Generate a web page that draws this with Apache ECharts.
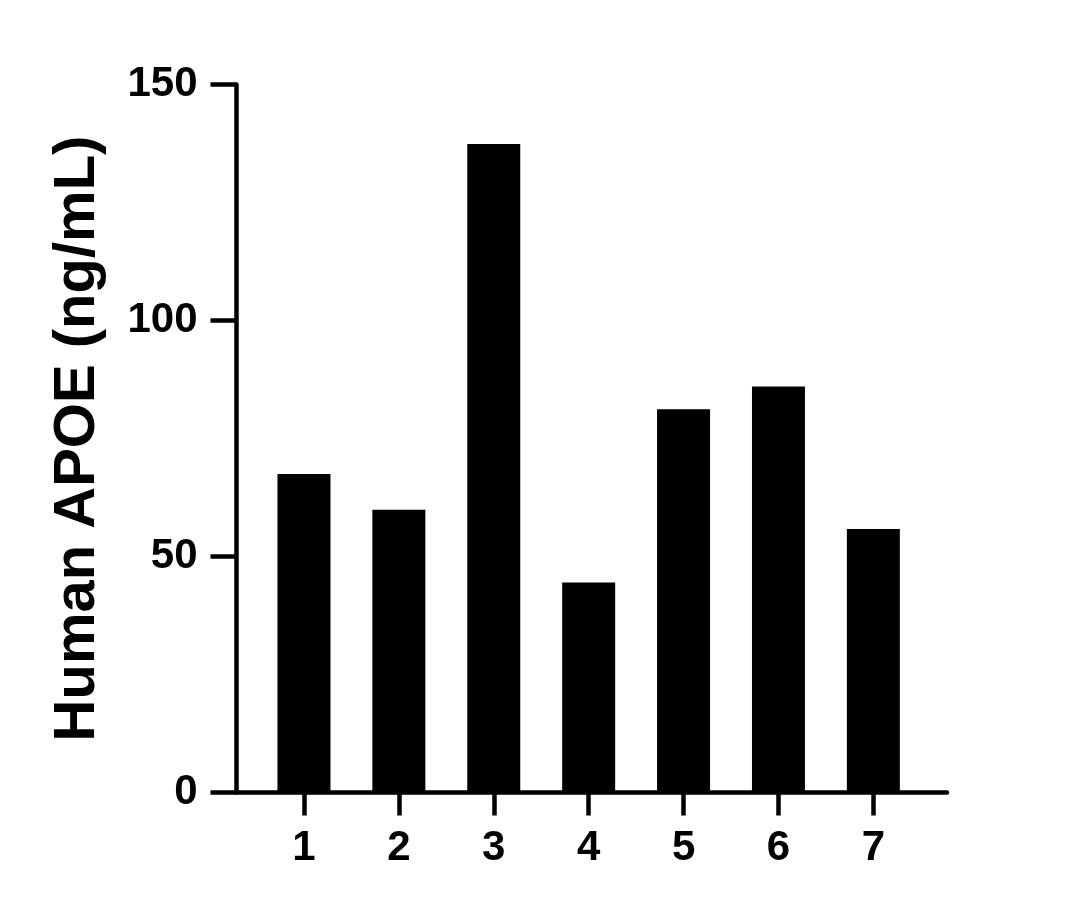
<!DOCTYPE html>
<html>
<head>
<meta charset="utf-8">
<script src="https://cdn.jsdelivr.net/npm/echarts@6/dist/echarts.min.js"></script>
<style>
html,body{margin:0;padding:0;background:#fff;}
#chart{width:1078px;height:910px;}
</style>
</head>
<body>
<div id="chart"></div>
<script>
const categories = [1, 2, 3, 4, 5, 6, 7];
const values = [67.5, 59.9, 137.4, 44.5, 81.2, 86.0, 55.8];
const yTicks = [0, 50, 100, 150];
const yName = 'Human APOE (ng/mL)';

const font = 'Liberation Sans, Arial, Helvetica, sans-serif';
const chart = echarts.init(document.getElementById('chart'), null, {renderer: 'canvas'});
chart.setOption({
  animation: false,
  backgroundColor: '#ffffff',
  grid: {left: 236.5, top: 84.5, width: 710.5, height: 708, containLabel: false},
  xAxis: {
    type: 'value',
    min: 0.289,
    max: 7.776,
    splitLine: {show: false},
    axisLine: {show: true, onZero: false, lineStyle: {color: '#000', width: 4.5}},
    axisTick: {show: true, length: 23, customValues: categories, lineStyle: {color: '#000', width: 4.5}},
    axisLabel: {
      customValues: categories,
      color: '#000', fontFamily: font, fontWeight: 'bold', fontSize: 42, margin: 35
    }
  },
  yAxis: {
    type: 'value',
    min: 0,
    max: 150,
    splitLine: {show: false},
    name: yName,
    nameLocation: 'middle',
    nameGap: 130,
    nameTextStyle: {color: '#000', fontFamily: font, fontWeight: 'bold', fontSize: 58},
    axisLine: {show: true, lineStyle: {color: '#000', width: 4.5}},
    axisTick: {show: true, length: 26, customValues: yTicks, lineStyle: {color: '#000', width: 4.5}},
    axisLabel: {
      customValues: yTicks,
      color: '#000', fontFamily: font, fontWeight: 'bold', fontSize: 42, margin: 39
    }
  },
  series: [{
    type: 'bar',
    barWidth: 53,
    itemStyle: {color: '#000'},
    data: categories.map((c, i) => [c, values[i]])
  }]
});
</script>
</body>
</html>
